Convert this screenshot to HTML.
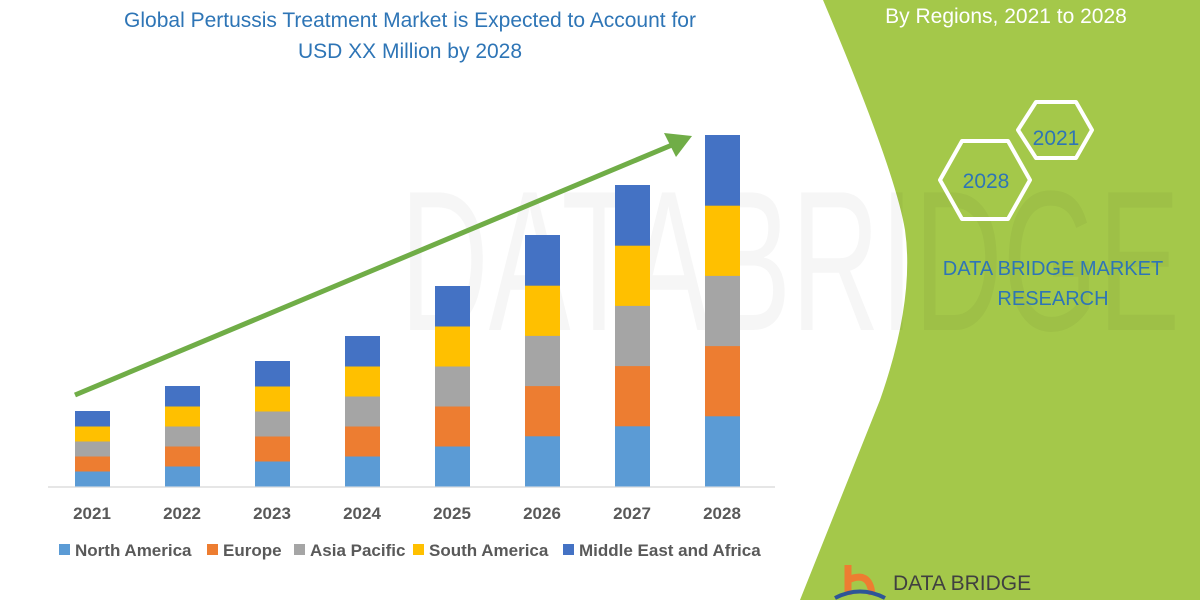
<!DOCTYPE html>
<html><head><meta charset="utf-8"><style>
body{margin:0;width:1200px;height:600px;overflow:hidden;background:#fff;font-family:"Liberation Sans",sans-serif}
</style></head><body>
<svg width="1200" height="600" viewBox="0 0 1200 600" xmlns="http://www.w3.org/2000/svg" style="position:absolute;left:0;top:0">
<rect width="1200" height="600" fill="#fff"/>
<path d="M823,0 L1200,0 L1200,600 L800,600 L880,400 Q915,300 905,230 Q895,170 823,0 Z" fill="#a4c84a"/>
<text x="400" y="330" font-size="200" fill="#000" opacity="0.03" font-family="Liberation Sans" textLength="780" lengthAdjust="spacingAndGlyphs">DATABRIDGE</text>
<line x1="48" y1="487" x2="775" y2="487" stroke="#e6e6e6" stroke-width="2"/>
<g id="bars"></g>
<g font-size="17" font-weight="bold" fill="#595959" text-anchor="middle">
<text x="92" y="519">2021</text><text x="182" y="519">2022</text><text x="272" y="519">2023</text><text x="362" y="519">2024</text>
<text x="452" y="519">2025</text><text x="542" y="519">2026</text><text x="632" y="519">2027</text><text x="722" y="519">2028</text>
</g>
<line x1="75" y1="395" x2="672" y2="145" stroke="#70ad47" stroke-width="5"/>
<polygon points="692,136 664,133 676,157" fill="#70ad47"/>
<g font-size="17" font-weight="bold" fill="#595959">
<rect x="59" y="544" width="11" height="11" fill="#5b9bd5"/><text x="75" y="556">North America</text>
<rect x="207" y="544" width="11" height="11" fill="#ed7d31"/><text x="223" y="556">Europe</text>
<rect x="294" y="544" width="11" height="11" fill="#a5a5a5"/><text x="310" y="556">Asia Pacific</text>
<rect x="413" y="544" width="11" height="11" fill="#ffc000"/><text x="429" y="556">South America</text>
<rect x="563" y="544" width="11" height="11" fill="#4472c4"/><text x="579" y="556">Middle East and Africa</text>
</g>
<g font-size="21" fill="#2e75b6" text-anchor="middle">
<text x="410" y="27">Global Pertussis Treatment Market is Expected to Account for</text>
<text x="410" y="58">USD XX Million by 2028</text>
</g>
<text x="1006" y="23" font-size="21" fill="#fff" text-anchor="middle">By Regions, 2021 to 2028</text>
<polygon points="940,180 962,141 1008,141 1030,180 1008,219 962,219" fill="none" stroke="#fff" stroke-width="4" stroke-linejoin="round"/>
<polygon points="1018,130 1036,102 1076,102 1092,130 1076,158 1036,158" fill="none" stroke="#fff" stroke-width="4" stroke-linejoin="round"/>
<text x="986" y="188" font-size="21" fill="#2e75b6" text-anchor="middle">2028</text>
<text x="1056" y="145" font-size="21" fill="#2e75b6" text-anchor="middle">2021</text>
<g font-size="20" fill="#2e75b6" text-anchor="middle">
<text x="1053" y="275">DATA BRIDGE MARKET</text><text x="1053" y="305">RESEARCH</text>
</g>
<path d="M848,565 L848,595 M848,580 Q870,570 872,595" stroke="#ed7d31" stroke-width="7" fill="none"/>
<path d="M835,598 Q860,585 885,598" stroke="#2e5597" stroke-width="4" fill="none"/>
<text x="893" y="590" font-size="21" fill="#404040">DATA BRIDGE</text>
</svg>
<script>
var g=document.getElementById('bars'),tops=[411,386,361,336,286,235,185,135],c=['#5b9bd5','#ed7d31','#a5a5a5','#ffc000','#4472c4'],s='';
tops.forEach(function(t,i){var h=(486-t)/5,x=75+90*i;for(var k=0;k<5;k++){s+='<rect x="'+x+'" y="'+(486-(k+1)*h)+'" width="35" height="'+(h+0.5)+'" fill="'+c[k]+'"/>';}});
g.innerHTML=s;
</script>
</body></html>
